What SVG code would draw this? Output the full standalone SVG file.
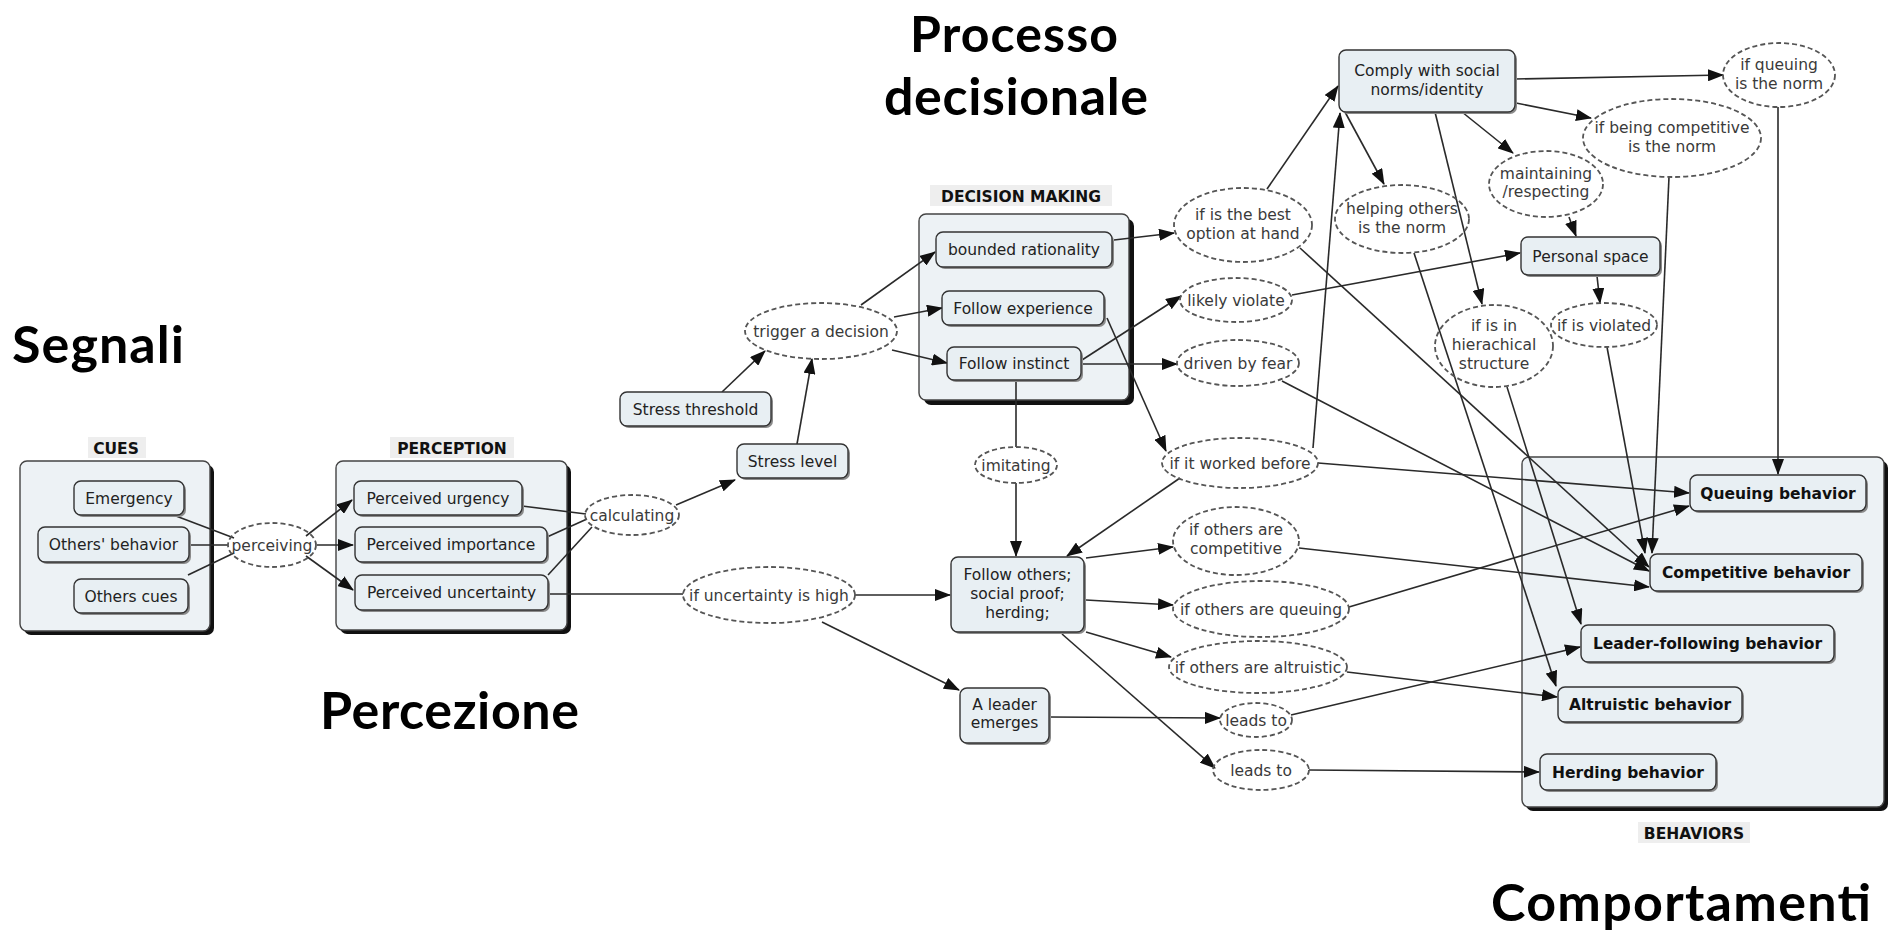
<svg xmlns="http://www.w3.org/2000/svg" width="1896" height="931" viewBox="0 0 1896 931">
  <style>
    .grp { fill: #edf2f5; stroke: #444; stroke-width: 1.4; }
    .gsh { fill: #111; }
    .lbg { fill: #eeeeee; }
    .c { fill: #e8eff3; stroke: #333; stroke-width: 1.4; }
    .sh { fill: #8a8a8a; }
    .lp { fill: none; stroke: #555; stroke-width: 1.8; stroke-dasharray: 5 3; }
    .t { font-family: "DejaVu Sans", Verdana, sans-serif; font-size: 15.5px; fill: #222; text-anchor: middle; }
    .tl { fill: #3a3a3a; }
    .tb { font-weight: bold; fill: #111; }
    .gl { font-family: "DejaVu Sans", Verdana, sans-serif; font-size: 15.5px; font-weight: bold; fill: #111; text-anchor: middle; }
    .title { font-family: Lato, "Open Sans", sans-serif; font-weight: bold; font-size: 52px; fill: #000; }
    .e { stroke: #2a2a2a; stroke-width: 1.6; fill: none; }
    .ea { stroke: #2a2a2a; stroke-width: 1.6; fill: none; marker-end: url(#ah); }
  </style>
  <defs>
    <marker id="ah" viewBox="0 0 16 12" refX="15" refY="6" markerWidth="16" markerHeight="12" markerUnits="userSpaceOnUse" orient="auto">
      <path d="M0,0 L16,6 L0,12 z" fill="#111"/>
    </marker>
  </defs>

  <rect width="1896" height="931" fill="#fff"/>

  <!-- section titles -->
  <g id="titles">
    <text class="title" x="12" y="363" textLength="172">Segnali</text>
    <text class="title" x="320" y="729" textLength="259">Percezione</text>
    <text class="title" x="910" y="52" textLength="208" style="font-size:50px">Processo</text>
    <text class="title" x="884" y="115" textLength="264">decisionale</text>
    <text class="title" x="1491" y="921" textLength="380">Comportamenti</text>
  </g>

  <!-- group containers -->
  <g id="grp-cues">
    <rect class="lbg" x="88" y="437" width="58" height="21"/>
    <text class="gl" x="116" y="454">CUES</text>
    <rect class="gsh" x="24" y="465" width="190" height="170" rx="7"/>
    <rect class="grp" x="20" y="461" width="190" height="170" rx="7"/>
  </g>
  <g id="grp-perception">
    <rect class="lbg" x="390" y="437" width="124" height="21"/>
    <text class="gl" x="452" y="454">PERCEPTION</text>
    <rect class="gsh" x="340" y="465" width="231" height="169" rx="7"/>
    <rect class="grp" x="336" y="461" width="231" height="169" rx="7"/>
  </g>
  <g id="grp-decision">
    <rect class="lbg" x="930" y="185" width="182" height="21"/>
    <text class="gl" x="1021" y="202">DECISION MAKING</text>
    <rect class="gsh" x="924" y="219" width="210" height="186" rx="7"/>
    <rect class="grp" x="919" y="214" width="210" height="186" rx="7"/>
  </g>
  <g id="grp-behaviors">
    <rect class="gsh" x="1526" y="461" width="362" height="350" rx="7"/>
    <rect class="grp" x="1522" y="457" width="362" height="350" rx="7"/>
    <rect class="lbg" x="1638" y="822" width="112" height="21"/>
    <text class="gl" x="1694" y="839">BEHAVIORS</text>
  </g>

  <!-- connectors -->
  <g id="connectors">
    <line class="e" x1="176" y1="516" x2="234" y2="538"/>
    <line class="e" x1="189" y1="545" x2="228" y2="545"/>
    <line class="e" x1="188" y1="575" x2="234" y2="553"/>
    <line class="ea" x1="306" y1="536" x2="352" y2="500"/>
    <line class="ea" x1="317" y1="545" x2="353" y2="545"/>
    <line class="ea" x1="306" y1="556" x2="353" y2="590"/>
    <line class="e" x1="522" y1="506" x2="586" y2="514"/>
    <line class="e" x1="547" y1="537" x2="587" y2="519"/>
    <line class="e" x1="548" y1="575" x2="592" y2="527"/>
    <line class="ea" x1="676" y1="505" x2="735" y2="480"/>
    <line class="ea" x1="797" y1="444" x2="812" y2="359"/>
    <line class="ea" x1="722" y1="392" x2="765" y2="351"/>
    <line class="ea" x1="861" y1="305" x2="935" y2="252"/>
    <line class="ea" x1="894" y1="317" x2="942" y2="308"/>
    <line class="ea" x1="892" y1="350" x2="947" y2="363"/>
    <line class="ea" x1="1114" y1="240" x2="1174" y2="233"/>
    <line class="ea" x1="1082" y1="360" x2="1181" y2="296"/>
    <line class="ea" x1="1082" y1="364" x2="1177" y2="364"/>
    <line class="ea" x1="1107" y1="318" x2="1166" y2="451"/>
    <line class="e" x1="1016" y1="380" x2="1016" y2="447"/>
    <line class="ea" x1="1016" y1="483" x2="1016" y2="556"/>
    <line class="ea" x1="1180" y1="478" x2="1067" y2="556"/>
    <line class="e" x1="548" y1="594" x2="683" y2="594"/>
    <line class="ea" x1="855" y1="595" x2="950" y2="595"/>
    <line class="ea" x1="822" y1="622" x2="959" y2="690"/>
    <line class="ea" x1="1086" y1="558" x2="1173" y2="547"/>
    <line class="ea" x1="1086" y1="600" x2="1173" y2="605"/>
    <line class="ea" x1="1086" y1="632" x2="1171" y2="657"/>
    <line class="ea" x1="1062" y1="634" x2="1215" y2="768"/>
    <line class="ea" x1="1049" y1="717" x2="1220" y2="718"/>
    <line class="ea" x1="1291" y1="715" x2="1580" y2="647"/>
    <line class="ea" x1="1309" y1="770" x2="1539" y2="772"/>
    <line class="ea" x1="1347" y1="672" x2="1557" y2="697"/>
    <line class="ea" x1="1349" y1="607" x2="1689" y2="506"/>
    <line class="ea" x1="1299" y1="548" x2="1649" y2="587"/>
    <line class="ea" x1="1318" y1="463" x2="1689" y2="493"/>
    <line class="ea" x1="1313" y1="448" x2="1340" y2="113"/>
    <line class="ea" x1="1267" y1="189" x2="1338" y2="86"/>
    <line class="ea" x1="1300" y1="248" x2="1649" y2="567"/>
    <line class="ea" x1="1282" y1="381" x2="1649" y2="571"/>
    <line class="ea" x1="1292" y1="295" x2="1520" y2="253"/>
    <line class="ea" x1="1515" y1="79" x2="1723" y2="75"/>
    <line class="ea" x1="1516" y1="103" x2="1591" y2="118"/>
    <line class="ea" x1="1462" y1="112" x2="1513" y2="153"/>
    <line class="ea" x1="1345" y1="112" x2="1384" y2="184"/>
    <line class="ea" x1="1435" y1="112" x2="1482" y2="304"/>
    <line class="ea" x1="1569" y1="217" x2="1576" y2="236"/>
    <line class="ea" x1="1597" y1="276" x2="1600" y2="303"/>
    <line class="ea" x1="1778" y1="107" x2="1778" y2="474"/>
    <line class="ea" x1="1669" y1="177" x2="1652" y2="553"/>
    <line class="ea" x1="1607" y1="347" x2="1645" y2="553"/>
    <line class="ea" x1="1507" y1="387" x2="1581" y2="624"/>
    <line class="ea" x1="1414" y1="253" x2="1556" y2="686"/>
  </g>

  <!-- cues -->
  <g id="n-emergency">
    <rect class="sh" x="76" y="483" width="110" height="34" rx="7"/>
    <rect class="c" x="74" y="481" width="110" height="34" rx="7"/>
    <text class="t" x="129" y="503.5">Emergency</text>
  </g>
  <g id="n-others-behavior">
    <rect class="sh" x="40" y="529" width="151" height="35" rx="7"/>
    <rect class="c" x="38" y="527" width="151" height="35" rx="7"/>
    <text class="t" x="113.5" y="550">Others' behavior</text>
  </g>
  <g id="n-others-cues">
    <rect class="sh" x="76" y="581" width="114" height="34" rx="7"/>
    <rect class="c" x="74" y="579" width="114" height="34" rx="7"/>
    <text class="t" x="131" y="601.5">Others cues</text>
  </g>
  <g id="l-perceiving">
    <ellipse class="lp" cx="272" cy="545" rx="44" ry="22"/>
    <text class="t tl" x="272" y="550.5">perceiving</text>
  </g>

  <!-- perception -->
  <g id="n-urgency">
    <rect class="sh" x="356" y="483" width="168" height="34" rx="7"/>
    <rect class="c" x="354" y="481" width="168" height="34" rx="7"/>
    <text class="t" x="438" y="503.5">Perceived urgency</text>
  </g>
  <g id="n-importance">
    <rect class="sh" x="357" y="529" width="192" height="35" rx="7"/>
    <rect class="c" x="355" y="527" width="192" height="35" rx="7"/>
    <text class="t" x="451" y="550">Perceived importance</text>
  </g>
  <g id="n-uncertainty">
    <rect class="sh" x="357" y="577" width="193" height="35" rx="7"/>
    <rect class="c" x="355" y="575" width="193" height="35" rx="7"/>
    <text class="t" x="451.5" y="598">Perceived uncertainty</text>
  </g>
  <g id="l-calculating">
    <ellipse class="lp" cx="632" cy="515" rx="47" ry="20"/>
    <text class="t tl" x="632" y="520.5">calculating</text>
  </g>

  <!-- stress -->
  <g id="n-stress-threshold">
    <rect class="sh" x="622" y="394" width="151" height="34" rx="7"/>
    <rect class="c" x="620" y="392" width="151" height="34" rx="7"/>
    <text class="t" x="695.5" y="414.5">Stress threshold</text>
  </g>
  <g id="n-stress-level">
    <rect class="sh" x="739" y="446" width="111" height="34" rx="7"/>
    <rect class="c" x="737" y="444" width="111" height="34" rx="7"/>
    <text class="t" x="792.5" y="466.5">Stress level</text>
  </g>
  <g id="l-trigger">
    <ellipse class="lp" cx="821" cy="331" rx="76" ry="28"/>
    <text class="t tl" x="821" y="336.5">trigger a decision</text>
  </g>

  <!-- decision making -->
  <g id="n-bounded">
    <rect class="sh" x="938" y="234" width="176" height="35" rx="7"/>
    <rect class="c" x="936" y="232" width="176" height="35" rx="7"/>
    <text class="t" x="1024" y="255">bounded rationality</text>
  </g>
  <g id="n-experience">
    <rect class="sh" x="944" y="293" width="162" height="34" rx="7"/>
    <rect class="c" x="942" y="291" width="162" height="34" rx="7"/>
    <text class="t" x="1023" y="313.5">Follow experience</text>
  </g>
  <g id="n-instinct">
    <rect class="sh" x="949" y="349" width="134" height="33" rx="7"/>
    <rect class="c" x="947" y="347" width="134" height="33" rx="7"/>
    <text class="t" x="1014" y="369">Follow instinct</text>
  </g>
  <g id="l-imitating">
    <ellipse class="lp" cx="1016" cy="465" rx="41" ry="18"/>
    <text class="t tl" x="1016" y="470.5">imitating</text>
  </g>
  <g id="n-follow-others">
    <rect class="sh" x="953" y="559" width="133" height="75" rx="7"/>
    <rect class="c" x="951" y="557" width="133" height="75" rx="7"/>
    <text class="t" x="1017.5" y="580">Follow others;</text>
    <text class="t" x="1017.5" y="599">social proof;</text>
    <text class="t" x="1017.5" y="618">herding;</text>
  </g>
  <g id="l-uncertainty-high">
    <ellipse class="lp" cx="769" cy="595" rx="86" ry="28"/>
    <text class="t tl" x="769" y="600.5">if uncertainty is high</text>
  </g>
  <g id="n-leader">
    <rect class="sh" x="962" y="690" width="89" height="55" rx="7"/>
    <rect class="c" x="960" y="688" width="89" height="55" rx="7"/>
    <text class="t" x="1004.5" y="710">A leader</text>
    <text class="t" x="1004.5" y="728">emerges</text>
  </g>

  <!-- conditions -->
  <g id="l-best-option">
    <ellipse class="lp" cx="1243" cy="225" rx="69" ry="37"/>
    <text class="t tl" x="1243" y="220">if is the best</text>
    <text class="t tl" x="1243" y="239">option at hand</text>
  </g>
  <g id="l-likely-violate">
    <ellipse class="lp" cx="1236" cy="300" rx="56" ry="22"/>
    <text class="t tl" x="1236" y="305.5">likely violate</text>
  </g>
  <g id="l-fear">
    <ellipse class="lp" cx="1238" cy="363" rx="61" ry="23"/>
    <text class="t tl" x="1238" y="368.5">driven by fear</text>
  </g>
  <g id="l-worked-before">
    <ellipse class="lp" cx="1240" cy="463" rx="78" ry="25"/>
    <text class="t tl" x="1240" y="468.5">if it worked before</text>
  </g>
  <g id="l-others-competitive">
    <ellipse class="lp" cx="1236" cy="541" rx="63" ry="34"/>
    <text class="t tl" x="1236" y="535">if others are</text>
    <text class="t tl" x="1236" y="554">competitive</text>
  </g>
  <g id="l-others-queuing">
    <ellipse class="lp" cx="1261" cy="609" rx="88" ry="28"/>
    <text class="t tl" x="1261" y="614.5">if others are queuing</text>
  </g>
  <g id="l-others-altruistic">
    <ellipse class="lp" cx="1258" cy="667" rx="89" ry="26"/>
    <text class="t tl" x="1258" y="672.5">if others are altruistic</text>
  </g>
  <g id="l-leads-to-1">
    <ellipse class="lp" cx="1256" cy="720" rx="36" ry="17"/>
    <text class="t tl" x="1256" y="725.5">leads to</text>
  </g>
  <g id="l-leads-to-2">
    <ellipse class="lp" cx="1261" cy="770" rx="48" ry="20"/>
    <text class="t tl" x="1261" y="775.5">leads to</text>
  </g>

  <!-- social norms -->
  <g id="n-comply">
    <rect class="sh" x="1341" y="52" width="176" height="62" rx="7"/>
    <rect class="c" x="1339" y="50" width="176" height="62" rx="7"/>
    <text class="t" x="1427" y="76">Comply with social</text>
    <text class="t" x="1427" y="95">norms/identity</text>
  </g>
  <g id="l-queuing-norm">
    <ellipse class="lp" cx="1779" cy="75" rx="56" ry="32"/>
    <text class="t tl" x="1779" y="70">if queuing</text>
    <text class="t tl" x="1779" y="89">is the norm</text>
  </g>
  <g id="l-competitive-norm">
    <ellipse class="lp" cx="1672" cy="138" rx="89" ry="39"/>
    <text class="t tl" x="1672" y="133">if being competitive</text>
    <text class="t tl" x="1672" y="152">is the norm</text>
  </g>
  <g id="l-maintaining">
    <ellipse class="lp" cx="1546" cy="184" rx="57" ry="33"/>
    <text class="t tl" x="1546" y="179">maintaining</text>
    <text class="t tl" x="1546" y="197">/respecting</text>
  </g>
  <g id="l-helping-norm">
    <ellipse class="lp" cx="1402" cy="219" rx="67" ry="34"/>
    <text class="t tl" x="1402" y="214">helping others</text>
    <text class="t tl" x="1402" y="233">is the norm</text>
  </g>
  <g id="n-personal-space">
    <rect class="sh" x="1523" y="239" width="139" height="38" rx="7"/>
    <rect class="c" x="1521" y="237" width="139" height="38" rx="7"/>
    <text class="t" x="1590.5" y="261.5">Personal space</text>
  </g>
  <g id="l-hierarchical">
    <ellipse class="lp" cx="1494" cy="346" rx="59" ry="41"/>
    <text class="t tl" x="1494" y="331">if is in</text>
    <text class="t tl" x="1494" y="350">hierachical</text>
    <text class="t tl" x="1494" y="369">structure</text>
  </g>
  <g id="l-violated">
    <ellipse class="lp" cx="1604" cy="325" rx="53" ry="22"/>
    <text class="t tl" x="1604" y="330.5">if is violated</text>
  </g>

  <!-- behaviors -->
  <g id="n-queuing">
    <rect class="sh" x="1692" y="477" width="176" height="36" rx="7"/>
    <rect class="c" x="1690" y="475" width="176" height="36" rx="7"/>
    <text class="t tb" x="1778" y="498.5">Queuing behavior</text>
  </g>
  <g id="n-competitive">
    <rect class="sh" x="1652" y="556" width="212" height="37" rx="7"/>
    <rect class="c" x="1650" y="554" width="212" height="37" rx="7"/>
    <text class="t tb" x="1756" y="578">Competitive behavior</text>
  </g>
  <g id="n-leader-following">
    <rect class="sh" x="1583" y="627" width="253" height="37" rx="7"/>
    <rect class="c" x="1581" y="625" width="253" height="37" rx="7"/>
    <text class="t tb" x="1707.5" y="649">Leader-following behavior</text>
  </g>
  <g id="n-altruistic">
    <rect class="sh" x="1560" y="689" width="184" height="35" rx="7"/>
    <rect class="c" x="1558" y="687" width="184" height="35" rx="7"/>
    <text class="t tb" x="1650" y="710">Altruistic behavior</text>
  </g>
  <g id="n-herding">
    <rect class="sh" x="1542" y="756" width="176" height="36" rx="7"/>
    <rect class="c" x="1540" y="754" width="176" height="36" rx="7"/>
    <text class="t tb" x="1628" y="777.5">Herding behavior</text>
  </g>
</svg>
